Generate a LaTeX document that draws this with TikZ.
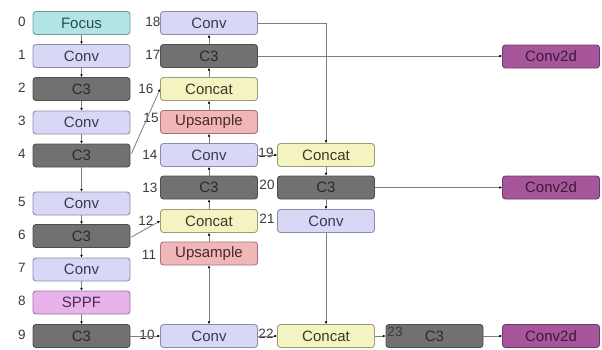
\documentclass[tikz,border=0pt]{standalone}
\usepackage{fontspec}
\setmainfont{Liberation Sans}
\usetikzlibrary{arrows.meta}
\definecolor{focusF}{HTML}{B2E4E6}\definecolor{focusD}{HTML}{6F9C9E}\definecolor{focusT}{HTML}{2C4A56}
\definecolor{convF}{HTML}{D8D8F6}\definecolor{convD}{HTML}{8C8CAA}\definecolor{convT}{HTML}{383A52}
\definecolor{cthreeF}{HTML}{717171}\definecolor{cthreeD}{HTML}{4E4E4E}\definecolor{cthreeT}{HTML}{2A2A2A}
\definecolor{catF}{HTML}{F4F4C2}\definecolor{catD}{HTML}{9C9C72}\definecolor{catT}{HTML}{3A3A28}
\definecolor{upF}{HTML}{F0B6B8}\definecolor{upD}{HTML}{A47274}\definecolor{upT}{HTML}{4A2A2C}
\definecolor{sppfF}{HTML}{E8B2EA}\definecolor{sppfD}{HTML}{A272A4}\definecolor{sppfT}{HTML}{4A2A50}
\definecolor{ctwoF}{HTML}{A8569C}\definecolor{ctwoD}{HTML}{6E3A66}\definecolor{ctwoT}{HTML}{3A1A38}
\definecolor{lineC}{HTML}{7E7E7E}\definecolor{numC}{HTML}{3C3C3C}
\tikzset{
  blk/.style={rounded corners=3pt, draw, line width=0.9pt, minimum width=97pt, minimum height=23pt, inner sep=0pt, font=\fontsize{15}{15}\selectfont},
  focusb/.style={blk, fill=focusF, draw=focusD, text=focusT},
  convb/.style={blk, fill=convF, draw=convD, text=convT},
  cthreeb/.style={blk, fill=cthreeF, draw=cthreeD, text=cthreeT},
  catb/.style={blk, fill=catF, draw=catD, text=catT},
  upb/.style={blk, fill=upF, draw=upD, text=upT},
  sppfb/.style={blk, fill=sppfF, draw=sppfD, text=sppfT},
  ctwob/.style={blk, fill=ctwoF, draw=ctwoD, text=ctwoT},
  num/.style={font=\fontsize{13.5}{13.5}\selectfont, text=numC, inner sep=0pt},
  conn/.style={draw=lineC, line width=0.8pt, -{Latex[length=2.6pt,width=2.6pt,color=black]}},
  bconn/.style={draw=lineC, line width=0.8pt, {Latex[length=2.6pt,width=2.6pt,color=black]}-{Latex[length=2.6pt,width=2.6pt,color=black]}},
}
\begin{document}
\begin{tikzpicture}[x=1pt,y=-1pt]
\useasboundingbox (0,0) rectangle (602,349);
% left column
\node[focusb]  (n0) at (81.5,23) {Focus};
\node[convb]   (n1) at (81.5,56) {Conv};
\node[cthreeb] (n2) at (81.5,89) {C3};
\node[convb]   (n3) at (81.5,122.5) {Conv};
\node[cthreeb] (n4) at (81.5,155.5) {C3};
\node[convb]   (n5) at (81.5,203.5) {Conv};
\node[cthreeb] (n6) at (81.5,236) {C3};
\node[convb]   (n7) at (81.5,269.5) {Conv};
\node[sppfb]   (n8) at (81.5,302.5) {SPPF};
\node[cthreeb] (n9) at (81.5,336) {C3};
% middle column
\node[convb]   (n18) at (209,23) {Conv};
\node[cthreeb] (n17) at (209,56) {C3};
\node[catb]    (n16) at (209,89) {Concat};
\node[upb]     (n15) at (209,122) {Upsample};
\node[convb]   (n14) at (209,155) {Conv};
\node[cthreeb] (n13) at (209,187.5) {C3};
\node[catb]    (n12) at (209,221) {Concat};
\node[upb]     (n11) at (209,253.5) {Upsample};
\node[convb]   (n10) at (209,336) {Conv};
% third column
\node[catb]    (n19) at (326,155) {Concat};
\node[cthreeb] (n20) at (326,187.5) {C3};
\node[convb]   (n21) at (326,221) {Conv};
\node[catb]    (n22) at (326,336) {Concat};
\node[cthreeb] (n23) at (434.5,336) {C3};
% outputs
\node[ctwob] (o1) at (551,56.5) {Conv2d};
\node[ctwob] (o2) at (551,187.5) {Conv2d};
\node[ctwob] (o3) at (551,336) {Conv2d};
% numbers
\foreach \t/\y in {0/22,1/55,2/88,3/121,4/154,5/202,6/235,7/268,8/301,9/335}
  \node[num] (l\t) at (22,\y) {\t};
\node[num] (l18) at (153,22) {18};
\node[num] (l17) at (153,55) {17};
\node[num] (l16) at (146,89) {16};
\node[num] (l15) at (151,118) {15};
\node[num] (l14) at (150,155) {14};
\node[num] (l13) at (150,188) {13};
\node[num] (l12) at (146,221) {12};
\node[num] (l11) at (149,255) {11};
\node[num] (l10) at (147,335) {10};
\node[num] (l19) at (266,153) {19};
\node[num] (l20) at (267,185) {20};
\node[num] (l21) at (267,219) {21};
\node[num] (l22) at (266,334) {22};
% connectors
\foreach \a/\b in {n0/n1,n1/n2,n2/n3,n3/n4,n4/n5,n5/n6,n6/n7,n7/n8,n8/n9}
  \draw[conn] (\a) -- (\b);
\foreach \a/\b in {n12/n13,n13/n14,n14/n15,n15/n16,n16/n17,n17/n18,n19/n20,n20/n21,n21/n22}
  \draw[conn] (\a) -- (\b);
\draw[conn] (n11) -- (n12);
\draw[bconn] (n10) -- (n11);
\draw[conn] (n9) -- (n10);
\draw[conn] (n10) -- (n22);
\draw[conn] (n22) -- (n23);
\draw[conn] (n23) -- (o3);
\draw[conn] (n14) -- (n19);
\draw[conn] (n20) -- (o2);
\draw[conn] (n17.east) -- (o1.west |- n17.east);
\draw[conn] (n18.east) -| (n19.north);
\draw[conn] ([xshift=1pt,yshift=2pt]n4.east) -- (n16.west);
\draw[conn] ([xshift=1pt,yshift=-1pt]n6.east) -- (n12.west);
\node[num] (l23) at (395,332) {23};
\end{tikzpicture}
\end{document}
